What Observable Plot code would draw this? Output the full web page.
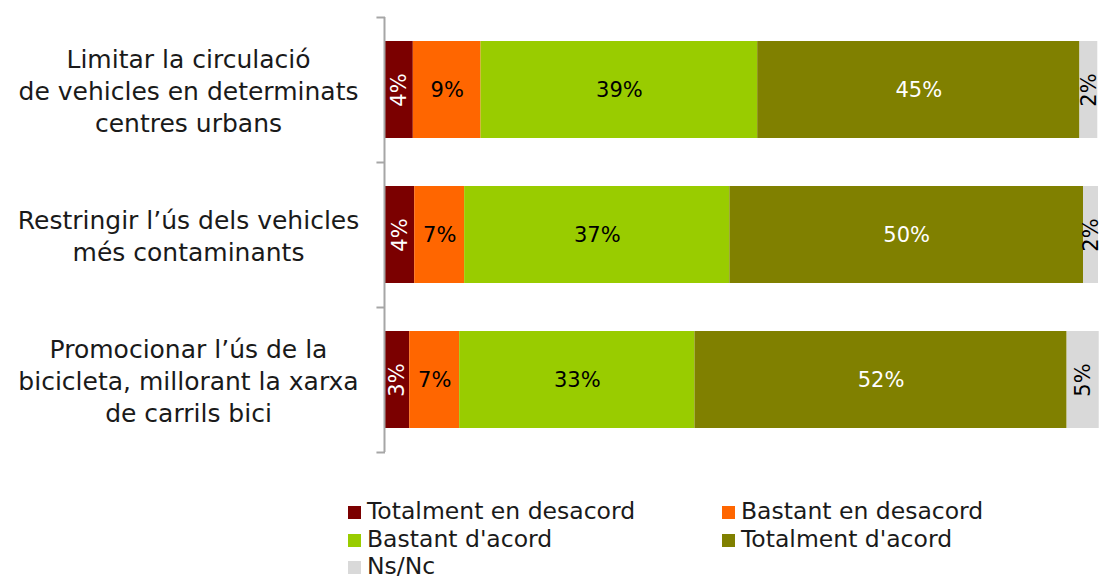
<!DOCTYPE html>
<html>
<head>
<meta charset="utf-8">
<script src="https://cdn.jsdelivr.net/npm/d3@7"></script>
<script src="https://cdn.jsdelivr.net/npm/@observablehq/plot@0.6"></script>
<style>
  html, body { margin: 0; padding: 0; background: #fff; }
  body { width: 1100px; height: 577px; overflow: hidden; font-family: "DejaVu Sans", sans-serif; }
  #legend { position: relative; height: 107px; font-size: 23.5px; color: #1a1a1a; }
  .item { position: absolute; display: flex; align-items: center; white-space: nowrap; line-height: 1; }
  .sw { width: 13px; height: 13px; margin-right: 6px; }
</style>
</head>
<body>
<div id="chart"></div>
<div id="legend"></div>
<script>
const categories = ["Totalment en desacord", "Bastant en desacord", "Bastant d'acord", "Totalment d'acord", "Ns/Nc"];
const colors = ["#7b0000", "#ff6600", "#99cc00", "#808000", "#d9d9d9"];
const questions = [
  "Limitar la circulació\nde vehicles en determinats\ncentres urbans",
  "Restringir l’ús dels vehicles\nmés contaminants",
  "Promocionar l’ús de la\nbicicleta, millorant la xarxa\nde carrils bici"
];
const values1 = [3.9, 9.5, 38.8, 45.2, 2.5];
const values2 = [4.1, 7.0, 37.2, 49.6, 2.1];
const values3 = [3.4, 7.0, 33.0, 52.2, 4.5];
const labels1 = ["4%", "9%", "39%", "45%", "2%"];
const labels2 = ["4%", "7%", "37%", "50%", "2%"];
const labels3 = ["3%", "7%", "33%", "52%", "5%"];

const allValues = [values1, values2, values3];
const allLabels = [labels1, labels2, labels3];
const data = [];
questions.forEach((q, qi) => {
  let acc = 0;
  categories.forEach((c, ci) => {
    const v = allValues[qi][ci];
    data.push({q, cat: c, ci, value: v, start: acc, end: acc + v, mid: acc + v / 2, label: allLabels[qi][ci]});
    acc += v;
  });
});

const rotated = data.filter(d => d.ci === 0 || d.ci === 4);
const flat = data.filter(d => d.ci !== 0 && d.ci !== 4);
const lastQ = [questions[questions.length - 1]];

const chart = Plot.plot({
  width: 1100,
  height: 470,
  marginLeft: 385,
  marginRight: 2,
  marginTop: 17,
  marginBottom: 18,
  style: {fontFamily: "DejaVu Sans, sans-serif", background: "#fff"},
  x: {domain: [0, 100], axis: null},
  y: {domain: questions, axis: null, paddingInner: 0.33, paddingOuter: 0.165},
  color: {domain: categories, range: colors},
  marks: [
    Plot.barX(data, {x1: "start", x2: "end", y: "q", fill: "cat"}),
    Plot.text(flat, {x: "mid", y: "q", text: "label", fontSize: 21,
      fill: d => d.ci === 3 ? "#ffffff" : "#000000"}),
    Plot.text(rotated, {x: "mid", y: "q", text: "label", fontSize: 21, rotate: -90,
      fill: d => d.ci === 0 ? "#ffffff" : "#000000"}),
    Plot.text(questions, {y: d => d, text: d => d, frameAnchor: "left", dx: -197,
      textAnchor: "middle", lineAnchor: "middle", lineHeight: 1.28, fontSize: 25, fill: "#1a1a1a"}),
    Plot.ruleX([0], {stroke: "#a6a6a6", strokeWidth: 2, dx: -1}),
    Plot.ruleY(questions, {y: d => d, x1: -1.2, x2: 0, dy: -72.5, stroke: "#a6a6a6", strokeWidth: 2}),
    Plot.ruleY(lastQ, {y: d => d, x1: -1.2, x2: 0, dy: 72.5, stroke: "#a6a6a6", strokeWidth: 2})
  ]
});
document.getElementById("chart").appendChild(chart);

const legend = document.getElementById("legend");
const pos = [[348, 42], [722, 42], [348, 70], [722, 70], [348, 97]];
categories.forEach((c, i) => {
  const el = document.createElement("div");
  el.className = "item";
  el.style.left = pos[i][0] + "px";
  el.style.top = (pos[i][1] - 12) + "px";
  el.style.height = "24px";
  const sw = document.createElement("span");
  sw.className = "sw";
  sw.style.background = colors[i];
  const tx = document.createElement("span");
  tx.textContent = c;
  el.appendChild(sw);
  el.appendChild(tx);
  legend.appendChild(el);
});
</script>
</body>
</html>
